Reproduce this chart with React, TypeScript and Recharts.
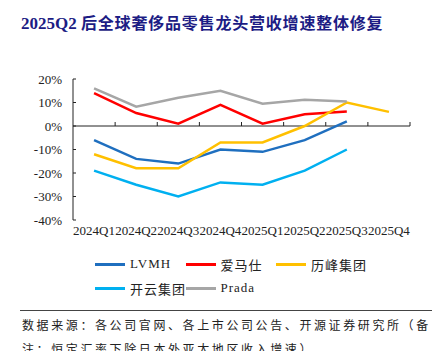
import React from 'react'
import { LineChart, Line, XAxis, YAxis, ReferenceLine } from 'recharts'

const quarters = ['2024Q1', '2024Q2', '2024Q3', '2024Q4', '2025Q1', '2025Q2', '2025Q3', '2025Q4']
const lvmh = [-6, -14, -16, -10, -11, -6, 2, null]
const hermes = [14, 5.5, 1, 9, 1, 5, 6.2, null]
const richemont = [-12, -18, -18, -7, -7, 0, 10, 6]
const kering = [-19, -25, -30, -24, -25, -19, -10, null]
const prada = [16, 8.2, 12, 15, 9.5, 11.2, 10.4, null]
const yTicks = [-40, -30, -20, -10, 0, 10, 20]

const SERIES = [
  { key: 'lvmh', name: 'LVMH', color: '#1f6fbf', values: lvmh },
  { key: 'hermes', name: '爱马仕', color: '#ff0000', values: hermes },
  { key: 'richemont', name: '历峰集团', color: '#ffc000', values: richemont },
  { key: 'kering', name: '开云集团', color: '#00b0f0', values: kering },
  { key: 'prada', name: 'Prada', color: '#a6a6a6', values: prada },
]

const data = quarters.map((q, i) => {
  const row: Record<string, string | number | null> = { q }
  SERIES.forEach(s => {
    row[s.key] = s.values[i]
  })
  return row
})

const FONT = "'Liberation Serif', 'Times New Roman', 'Noto Sans CJK SC', serif"

const YTick = (props: any) => {
  const { x, y, payload } = props
  return (
    <g>
      <text x={x} y={y} dy={4.5} textAnchor="end" fontSize={13} fill="#222" fontFamily={FONT}>
        {payload.value}%
      </text>
      <line x1={x + 11} x2={x + 14} y1={y} y2={y} stroke="#222" strokeWidth={1} />
    </g>
  )
}

const ZeroAxis = (props: any) => {
  const { x1, x2, y1 } = props
  const n = quarters.length
  const step = (x2 - x1) / n
  const marks = []
  for (let i = 1; i <= n; i++) {
    const x = x1 + step * i
    marks.push(<line key={i} x1={x} x2={x} y1={y1} y2={y1 - 4} stroke="#222" strokeWidth={1} />)
  }
  return (
    <g>
      <line x1={x1} x2={x2} y1={y1} y2={y1} stroke="#222" strokeWidth={1} />
      {marks}
    </g>
  )
}

export default function App() {
  return (
    <div
      style={{
        position: 'absolute',
        left: 0,
        top: 0,
        width: 437,
        height: 351,
        background: '#fff',
        overflow: 'hidden',
        fontFamily: FONT,
      }}
    >
      <div
        style={{
          position: 'absolute',
          left: 21,
          top: 10,
          fontSize: 17,
          fontWeight: 'bold',
          color: '#1c1c84',
          whiteSpace: 'nowrap',
        }}
      >
        2025Q2 <span style={{ fontSize: 16, letterSpacing: 0.8 }}>后全球奢侈品零售龙头营收增速整体修复</span>
      </div>

      <div style={{ position: 'absolute', left: 0, top: 0 }}>
        <LineChart width={437} height={250} data={data} margin={{ top: 79, right: 27, bottom: 10, left: 13 }}>
          <XAxis
            dataKey="q"
            scale="band"
            axisLine={false}
            tickLine={false}
            tickSize={0}
            tickMargin={6}
            height={20}
            interval={0}
            tick={{ fontSize: 13, fill: '#222', fontFamily: FONT }}
          />
          <YAxis
            domain={[-40, 20]}
            ticks={yTicks}
            width={60}
            tickSize={0}
            tickMargin={11}
            tickLine={false}
            axisLine={{ stroke: '#222' }}
            tick={<YTick />}
            interval={0}
          />
          <ReferenceLine y={0} shape={<ZeroAxis />} />
          {SERIES.map(s => (
            <Line
              key={s.key}
              dataKey={s.key}
              name={s.name}
              stroke={s.color}
              strokeWidth={2.5}
              dot={false}
              isAnimationActive={false}
            />
          ))}
        </LineChart>
      </div>

      {SERIES.map((s, i) => (
        <div
          key={s.key}
          style={{
            position: 'absolute',
            left: 95 + (i % 3) * 90.5,
            top: 256 + Math.floor(i / 3) * 24,
            height: 16,
            display: 'flex',
            alignItems: 'center',
            whiteSpace: 'nowrap',
          }}
        >
          <div style={{ width: 30, height: 3, background: s.color, marginRight: 5 }} />
          <span style={{ fontSize: 13, letterSpacing: 1, color: '#222' }}>{s.name}</span>
        </div>
      ))}

      <div style={{ position: 'absolute', left: 20, top: 310, width: 412, height: 0, borderTop: '1.5px solid #444' }} />
      <div
        style={{
          position: 'absolute',
          left: 22,
          top: 314,
          width: 430,
          fontSize: 12,
          lineHeight: '24px',
          letterSpacing: 2.6,
          color: '#222',
          whiteSpace: 'nowrap',
        }}
      >
        <div>数据来源：各公司官网、各上市公司公告、开源证券研究所（备</div>
        <div>注：恒定汇率下除日本外亚太地区收入增速）</div>
      </div>
    </div>
  )
}
